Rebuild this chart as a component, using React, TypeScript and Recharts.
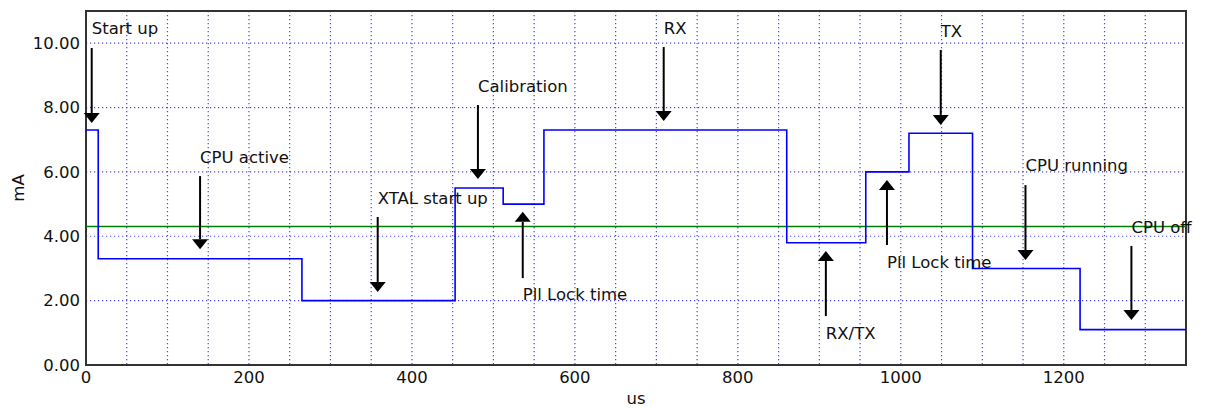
import React from 'react';
import {
  LineChart,
  Line,
  XAxis,
  YAxis,
  CartesianGrid,
  ReferenceLine,
  ReferenceArea,
  ReferenceDot,
} from 'recharts';

// current profile (step after each time)
const TIME_US = [0, 15, 265, 453, 512, 562, 860, 957, 1010, 1088, 1220, 1350];
const CURRENT_MA = [7.3, 3.3, 2.0, 5.5, 5.0, 7.3, 3.8, 6.0, 7.2, 3.0, 1.1, 1.1];
const AVERAGE_MA = 4.3;

const X_TICKS = Array.from({ length: 28 }, (_, i) => i * 50);
const Y_TICKS = [0, 2, 4, 6, 8, 10];

// annotations: label, x, text baseline y, arrow tail y, arrow tip y
const NOTE_LABELS = [
  'Start up', 'CPU active', 'XTAL start up', 'Calibration', 'Pll Lock time',
  'RX', 'RX/TX', 'Pll Lock time', 'TX', 'CPU running', 'CPU off',
];
const NOTE_X = [7, 140, 358, 481, 536, 709, 908, 983, 1049, 1153, 1283];
const NOTE_TEXT_Y = [10.29, 6.28, 5.0, 8.48, 2.02, 10.29, 0.81, 3.01, 10.19, 6.03, 4.1];
const NOTE_TAIL_Y = [9.85, 5.87, 4.6, 8.08, 2.7, 9.88, 1.52, 3.73, 9.79, 5.59, 3.7];
const NOTE_TIP_Y = [7.52, 3.6, 2.27, 5.78, 4.76, 7.58, 3.54, 5.75, 7.46, 3.26, 1.4];

const data = TIME_US.map((t, i) => ({ t, mA: CURRENT_MA[i] }));

const FONT = '"DejaVu Sans", sans-serif';
const FS = 16.5;

const Arrow = (props: any) => {
  const { x1, y1, x2, y2 } = props;
  const dir = y2 > y1 ? 1 : -1;
  const head = 10;
  const half = 8;
  return (
    <g>
      <line x1={x1} y1={y1} x2={x2} y2={y2 - dir * head} stroke="#000" strokeWidth={2} />
      <polygon
        points={`${x2 - half},${y2 - dir * head} ${x2 + half},${y2 - dir * head} ${x2},${y2}`}
        fill="#000"
      />
    </g>
  );
};

const NoteText = (text: string) => (props: any) => (
  <text x={props.cx} y={props.cy} fontFamily={FONT} fontSize={FS} fill="#111">
    {text}
  </text>
);

export default function App() {
  return (
    <div style={{ position: 'absolute', left: 0, top: 0, background: '#fff' }}>
      <LineChart
        width={1205}
        height={408}
        data={data}
        margin={{ top: 11, right: 19, bottom: 0, left: 0 }}
      >
        <CartesianGrid stroke="#4a4ae6" strokeDasharray="1.2 2.8" strokeWidth={1.2} />
        <XAxis
          dataKey="t"
          type="number"
          domain={[0, 1350]}
          ticks={X_TICKS}
          interval={0}
          height={43}
          tickLine={false}
          axisLine={false}
          tickMargin={0}
          tickFormatter={(v: number) => (v % 200 === 0 ? String(v) : '')}
          tick={{ fill: '#111', fontSize: FS, fontFamily: FONT }}
          label={{ value: 'us', position: 'insideBottom', offset: 4, fill: '#111', fontSize: FS, fontFamily: FONT }}
        />
        <YAxis
          type="number"
          domain={[0, 11]}
          ticks={Y_TICKS}
          width={86}
          tickLine={false}
          axisLine={false}
          tickMargin={0}
          tickFormatter={(v: number) => v.toFixed(2)}
          tick={{ fill: '#111', fontSize: FS, fontFamily: FONT }}
          label={({ viewBox }: any) => (
            <text
              x={18}
              y={viewBox.y + viewBox.height / 2}
              transform={`rotate(-90 18 ${viewBox.y + viewBox.height / 2})`}
              textAnchor="middle"
              dominantBaseline="central"
              fontFamily={FONT}
              fontSize={FS}
              fill="#111"
            >
              mA
            </text>
          )}
        />
        <ReferenceLine y={AVERAGE_MA} stroke="#008000" strokeWidth={1.5} />
        <Line
          type="stepAfter"
          dataKey="mA"
          stroke="#0000ff"
          strokeWidth={1.6}
          dot={false}
          isAnimationActive={false}
        />
        {NOTE_LABELS.map((label, i) => (
          <ReferenceLine
            key={`arrow-${i}`}
            segment={[
              { x: NOTE_X[i], y: NOTE_TAIL_Y[i] },
              { x: NOTE_X[i], y: NOTE_TIP_Y[i] },
            ]}
            shape={Arrow}
          />
        ))}
        {NOTE_LABELS.map((label, i) => (
          <ReferenceDot
            key={`note-${i}`}
            x={NOTE_X[i]}
            y={NOTE_TEXT_Y[i]}
            shape={NoteText(label)}
          />
        ))}
        <ReferenceArea
          x1={0}
          x2={1350}
          y1={0}
          y2={11}
          fill="none"
          fillOpacity={0}
          stroke="#333"
          strokeWidth={2}
        />
      </LineChart>
    </div>
  );
}
